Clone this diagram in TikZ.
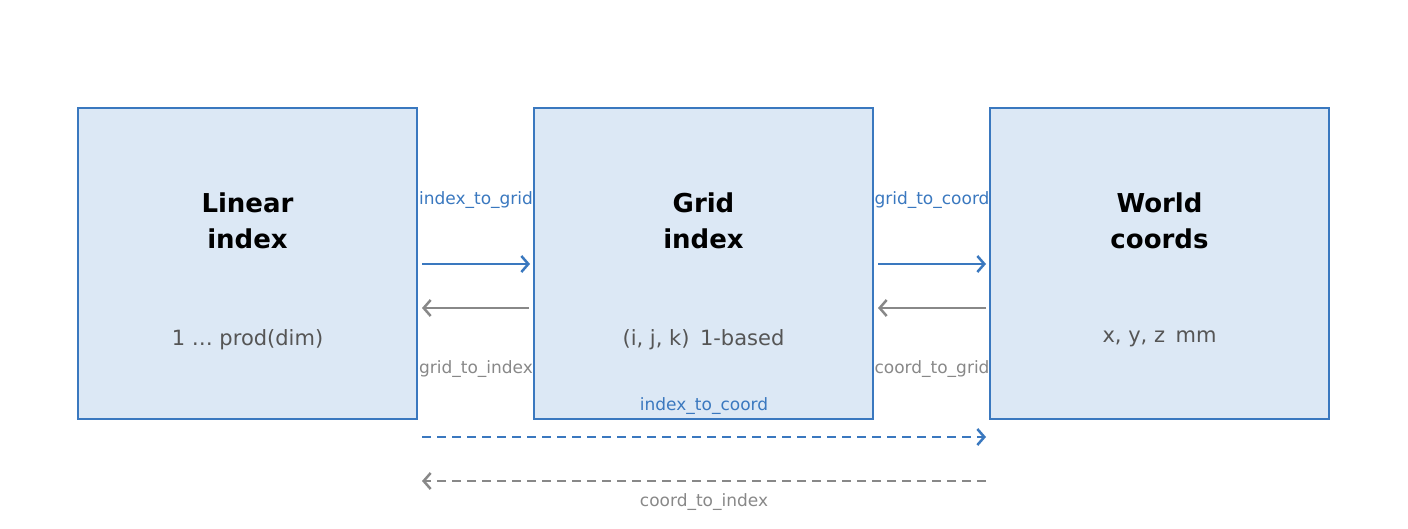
\documentclass[tikz,border=0pt]{standalone}
\usepackage{fontspec}
\setmainfont{DejaVu Sans}
\usetikzlibrary{arrows.meta}
\definecolor{bl}{HTML}{3A78BF}
\definecolor{bf}{HTML}{DCE8F5}
\definecolor{gr}{HTML}{888888}
\definecolor{dg}{HTML}{555555}
\begin{document}
\begin{tikzpicture}[x=1pt,y=-1pt,
 box/.style={draw=bl,fill=bf,line width=2.5pt,minimum width=339pt,minimum height=311pt,inner sep=0},
 ttl/.style={font=\fontsize{26}{36}\selectfont\bfseries,align=center},
 sub/.style={font=\fontsize{21}{26}\selectfont,text=dg},
 lab/.style={font=\fontsize{17}{20}\selectfont},
 arr/.style={line width=2.5pt,-{Straight Barb[length=7pt,width=16pt]}}]
\useasboundingbox (0,0) rectangle (1408,528);
\node[box] (L) at (247.5,263.5) {};
\node[box] (G) at (703.5,263.5) {};
\node[box] (W) at (1159.5,263.5) {};
\node[ttl] (Lt) at (247.5,221) {Linear\\index};
\node[ttl] (Gt) at (703.5,221) {Grid\\index};
\node[ttl] (Wt) at (1159.5,221) {World\\coords};
\node[sub] (Ls) at (247.5,340) {1 … prod(dim)};
\node[sub] (Gs) at (703.5,340) {(i, j, k)\enspace 1-based};
\node[sub] (Ws) at (1159.5,339) {x, y, z\enspace mm};
\coordinate (a1) at (422,264); \coordinate (a2) at (530,264);
\coordinate (b1) at (529,308); \coordinate (b2) at (422,308);
\coordinate (c1) at (878,264); \coordinate (c2) at (986,264);
\coordinate (d1) at (986,308); \coordinate (d2) at (878,308);
\coordinate (e1) at (422,437); \coordinate (e2) at (986,437);
\coordinate (f1) at (986,481); \coordinate (f2) at (422,481);
\draw[arr,bl] (a1) -- (a2);
\draw[arr,gr] (b1) -- (b2);
\draw[arr,bl] (c1) -- (c2);
\draw[arr,gr] (d1) -- (d2);
\draw[arr,bl,dash pattern=on 9pt off 6pt] (e1) -- (e2);
\draw[arr,gr,dash pattern=on 9pt off 6pt] (f1) -- (f2);
\node[lab,text=bl] (l1) at (476,200) {index\_to\_grid};
\node[lab,text=gr] (l2) at (476,369) {grid\_to\_index};
\node[lab,text=bl] (l3) at (932,200) {grid\_to\_coord};
\node[lab,text=gr] (l4) at (932,369) {coord\_to\_grid};
\node[lab,text=bl] (l5) at (704,406) {index\_to\_coord};
\node[lab,text=gr] (l6) at (704,502) {coord\_to\_index};
\end{tikzpicture}
\end{document}
